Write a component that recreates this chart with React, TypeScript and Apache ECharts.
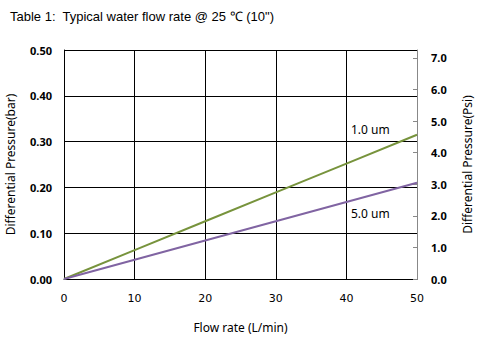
import React, { useEffect, useRef } from "react";
import * as echarts from "echarts";

const flowRates = [0, 10, 20, 30, 40, 50];
const series1um = [0, 0.063, 0.126, 0.189, 0.252, 0.315];
const series5um = [0, 0.042, 0.084, 0.126, 0.168, 0.21];
const psiTicks = [0, 1, 2, 3, 4, 5, 6, 7];
const seriesNames = ["1.0 um", "5.0 um"];
const BAR_TO_PSI = 14.5038;

export default function App() {
  const ref = useRef<HTMLDivElement>(null);
  useEffect(() => {
    if (!ref.current) return;
    const chart = echarts.init(ref.current, null, { renderer: "svg" });
    const lab = { fontFamily: "Noto Sans", fontSize: 11, color: "#000" };
    chart.setOption({
      animation: false,
      backgroundColor: "#fff",
      title: {
        text: 'Table 1:  Typical water flow rate @ 25 ℃ (10")',
        left: 5,
        top: 5,
        textStyle: { fontFamily: "Liberation Sans", fontSize: 13, fontWeight: "normal", color: "#000" },
      },
      grid: { left: 64, right: 63, top: 50, bottom: 61, containLabel: false, outerBoundsMode: "none" },
      xAxis: {
        type: "value",
        min: 0,
        max: 50,
        interval: 10,
        name: "Flow rate (L/min)",
        nameLocation: "middle",
        nameGap: 42,
        nameTextStyle: { ...lab, fontSize: 12 },
        axisLine: { show: true, lineStyle: { color: "#000", width: 1 } },
        axisTick: { show: false },
        axisLabel: { ...lab, fontFamily: "DejaVu Sans", fontSize: 11, margin: 14 },
        splitLine: { show: true, lineStyle: { color: "#000", width: 1 } },
      },
      yAxis: [
        {
          type: "value",
          min: 0,
          max: 0.5,
          interval: 0.1,
          position: "left",
          name: "Differential Pressure(bar)",
          nameLocation: "middle",
          nameGap: 48,
          nameTextStyle: { ...lab, fontSize: 12 },
          axisLine: { show: true, lineStyle: { color: "#000", width: 1 } },
          axisTick: { show: false },
          axisLabel: { ...lab, fontWeight: "bold", margin: 12, formatter: (v: number) => v.toFixed(2) },
          splitLine: { show: true, lineStyle: { color: "#000", width: 1 } },
        },
        {
          type: "value",
          min: 0,
          max: 0.5 * BAR_TO_PSI,
          interval: 1,
          position: "right",
          name: "Differential Pressure(Psi)",
          nameLocation: "middle",
          nameGap: 44,
          nameTextStyle: { ...lab, fontSize: 12 },
          axisLine: { show: true, onZero: false, lineStyle: { color: "#888", width: 1 } },
          axisTick: { show: true, inside: true, length: 4, lineStyle: { color: "#888" }, customValues: psiTicks },
          axisLabel: { ...lab, fontWeight: "bold", margin: 14, customValues: psiTicks, formatter: (v: number) => v.toFixed(1) },
          splitLine: { show: false },
        },
      ],
      series: [
        {
          name: seriesNames[0],
          type: "line",
          data: flowRates.map((x, i) => [x, series1um[i]]),
          showSymbol: false,
          lineStyle: { color: "#77933C", width: 2 },
          itemStyle: { color: "#77933C" },
        },
        {
          name: seriesNames[1],
          type: "line",
          data: flowRates.map((x, i) => [x, series5um[i]]),
          showSymbol: false,
          lineStyle: { color: "#8064A2", width: 2 },
          itemStyle: { color: "#8064A2" },
        },
      ],
      graphic: [
        { type: "text", left: 351, top: 123, style: { text: seriesNames[0], font: "12px 'Noto Sans'", fill: "#000" } },
        { type: "text", left: 351, top: 207, style: { text: seriesNames[1], font: "12px 'Noto Sans'", fill: "#000" } },
      ],
    });
    return () => chart.dispose();
  }, []);
  return <div ref={ref} style={{ width: 480, height: 340, position: "absolute", left: 0, top: 0 }} />;
}
